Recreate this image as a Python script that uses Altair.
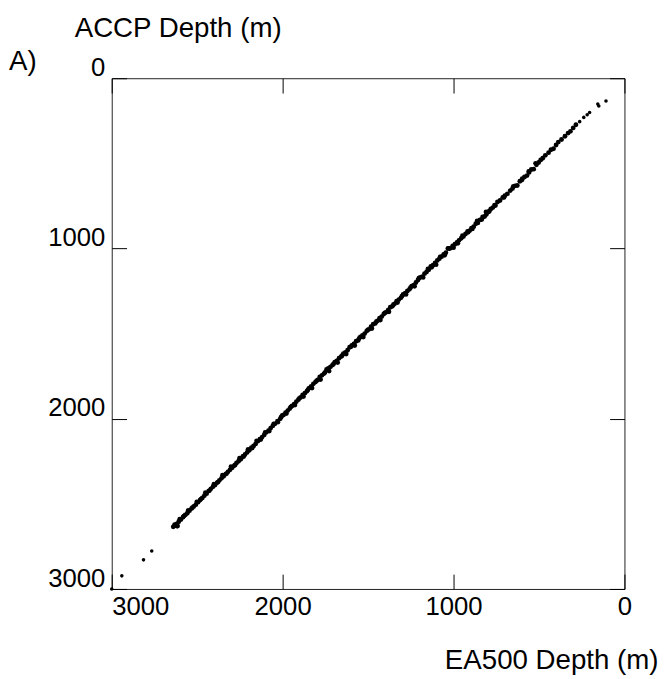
import altair as alt
import pandas as pd

# EA500 depth (x) and ACCP depth (y), metres
ea500 = [108, 150, 156, 204, 218, 238, 262, 284, 300, 316, 330, 348, 368, 387, 400, 415, 430, 444,
         463, 478, 490, 502, 515, 531, 545, 558, 570, 585, 598, 612, 627, 640, 655, 668, 685, 700,
         712, 728, 743, 755, 770, 782, 795, 808, 818, 830, 845, 858, 870, 882, 895, 905, 918, 930,
         942, 955, 968, 980, 992, 1005, 1018, 1033, 1045, 1058, 1070, 1083, 1095, 1108, 1120, 1133,
         1145, 1158, 1170, 1183, 1195, 1208, 1220, 1233, 1245, 1258, 1270, 1283, 1295, 1308, 1320,
         1333, 1345, 1358, 1370, 1383, 1395, 1408, 1420, 1433, 1445, 1458, 1470, 1483, 1495, 1508,
         1520, 1533, 1545, 1558, 1570, 1583, 1595, 1608, 1620, 1633, 1645, 1658, 1670, 1683, 1695,
         1708, 1720, 1733, 1743, 1758, 1770, 1783, 1795, 1808, 1820, 1833, 1845, 1858, 1870, 1883,
         1895, 1908, 1920, 1933, 1945, 1958, 1970, 1983, 1995, 2008, 2014, 2030, 2045, 2058, 2070,
         2083, 2095, 2108, 2120, 2133, 2145, 2158, 2170, 2183, 2195, 2208, 2220, 2233, 2245, 2258,
         2270, 2283, 2295, 2308, 2320, 2333, 2345, 2358, 2370, 2383, 2395, 2408, 2420, 2433, 2445,
         2458, 2470, 2483, 2495, 2508, 2520, 2533, 2545, 2558, 2570, 2583, 2595, 2608, 2620, 2627,
         2632, 2618, 2766, 2814, 2941, 3000,
         520, 560, 600, 650, 705, 760, 790,
         810, 835, 862, 890, 915, 948, 975, 1000, 1025, 1052, 1078, 1102, 1128, 1150, 1178, 1203,
         1228, 1252, 1278, 1302, 1328, 1352, 1378, 1402, 1428, 1452, 1478, 1502, 1528, 1552, 1578,
         1602, 1628, 1652, 1678, 1702, 1728, 1752, 1778, 1802, 1828, 1852, 1878, 1902, 1928, 1952,
         1978, 2002, 2028, 2052, 2078, 2102, 2128, 2152, 2178, 2202, 2228, 2252, 2278, 2302, 2328,
         2352, 2378, 2402, 2428, 2452, 2478, 2502, 2528, 2552, 2578, 2602, 2615, 2640]
accp = [134, 163, 152, 201, 215, 230, 255, 273, 292, 312, 322, 341, 360, 375, 392, 414, 420, 437,
        453, 470, 480, 495, 508, 534, 536, 553, 572, 580, 590, 605, 630, 632, 648, 660, 679, 690,
        700, 718, 727, 748, 760, 768, 785, 800, 812, 815, 832, 850, 855, 872, 880, 895, 900, 915,
        930, 940, 952, 965, 975, 985, 998, 1000, 1025, 1035, 1048, 1060, 1070, 1085, 1098, 1105,
        1125, 1138, 1148, 1165, 1170, 1185, 1200, 1215, 1222, 1240, 1250, 1262, 1270, 1290, 1300,
        1310, 1325, 1340, 1345, 1362, 1375, 1385, 1400, 1410, 1425, 1440, 1445, 1460, 1475, 1485,
        1500, 1510, 1520, 1540, 1545, 1560, 1570, 1580, 1598, 1610, 1618, 1635, 1645, 1660, 1668,
        1685, 1695, 1705, 1711, 1735, 1745, 1755, 1772, 1785, 1795, 1810, 1820, 1838, 1850, 1860,
        1875, 1888, 1900, 1915, 1925, 1940, 1952, 1965, 1978, 1990, 2000, 2015, 2030, 2042, 2055,
        2070, 2080, 2095, 2108, 2120, 2132, 2148, 2160, 2170, 2185, 2198, 2210, 2222, 2238, 2250,
        2260, 2275, 2288, 2300, 2312, 2325, 2338, 2350, 2362, 2375, 2390, 2400, 2412, 2425, 2440,
        2452, 2465, 2478, 2490, 2505, 2515, 2528, 2540, 2555, 2565, 2578, 2592, 2605, 2618, 2628,
        2622, 2630, 2777, 2829, 2923, 3000,
        500, 548, 598, 635, 700, 745, 780,
        785, 830, 838, 885, 905, 925, 970, 995, 1000, 1040, 1050, 1095, 1110, 1120, 1170, 1175,
        1222, 1230, 1270, 1280, 1318, 1330, 1372, 1378, 1420, 1430, 1470, 1478, 1520, 1528, 1570,
        1578, 1620, 1630, 1670, 1678, 1720, 1728, 1770, 1778, 1820, 1830, 1870, 1880, 1920, 1930,
        1970, 1980, 2020, 2030, 2072, 2080, 2122, 2130, 2172, 2180, 2222, 2232, 2272, 2282, 2322,
        2332, 2372, 2385, 2422, 2435, 2472, 2488, 2522, 2538, 2572, 2590, 2630, 2635]

tick_values = [0, 1000, 2000, 3000]
x_title = "EA500 Depth (m)"
y_title = "ACCP Depth (m)"
panel_label = "A)"

df = pd.DataFrame({"ea500": ea500, "accp": accp})

FONT = "Liberation Sans"
W, H = 519, 517

xscale = alt.Scale(domain=[3000, 0], nice=False, zero=False)
yscale = alt.Scale(domain=[3000, 0], nice=False, zero=False)

dash = [15, 3000]

x_bottom = alt.Axis(
    orient="bottom", values=tick_values, format="d", domain=False, ticks=False,
    grid=True, gridDash=dash, gridColor="#000", gridWidth=1, gridOpacity=1,
    labelFont=FONT, labelFontSize=26, labelColor="#000", labelPadding=5,
    labelFlush=False, labelOverlap=False,
    labelAlign={"condition": {"test": "datum.value == 3000", "value": "left"}, "value": "center"},
    title=x_title, titleFont=FONT, titleFontSize=28, titleFontWeight="normal", titleColor="#000",
    titleAnchor="end", titleAlign="right", titleBaseline="alphabetic",
    titleX=W + 34, titleY=80,
)
y_left = alt.Axis(
    orient="left", values=tick_values, format="d", domain=False, ticks=False,
    grid=True, gridDash=dash, gridColor="#000", gridWidth=1, gridOpacity=1,
    labelFont=FONT, labelFontSize=26, labelColor="#000", labelPadding=7,
    labelFlush=False, labelOverlap=False, labelBaseline="alphabetic", labelOffset=-3,
    title=y_title, titleFont=FONT, titleFontSize=28, titleFontWeight="normal", titleColor="#000",
    titleAngle=0, titleAlign="left", titleBaseline="alphabetic",
    titleX=-38, titleY=-42,
)
x_top = alt.Axis(
    orient="top", values=tick_values, domain=False, ticks=False, labels=False, title=None,
    grid=True, gridDash=dash, gridColor="#000", gridWidth=1, gridOpacity=1,
)
y_right = alt.Axis(
    orient="right", values=tick_values, domain=False, ticks=False, labels=False, title=None,
    grid=True, gridDash=dash, gridColor="#000", gridWidth=1, gridOpacity=1,
)

base = alt.Chart(df)
dense = base.transform_filter("datum.ea500 > 280 && datum.ea500 < 2700").mark_circle(
    size=24, color="#000", opacity=1
).encode(
    x=alt.X("ea500:Q", scale=xscale, axis=x_bottom),
    y=alt.Y("accp:Q", scale=yscale, axis=y_left),
)
sparse = base.transform_filter("datum.ea500 <= 280 || datum.ea500 >= 2700").mark_circle(
    size=13, color="#000", opacity=1
).encode(
    x=alt.X("ea500:Q", scale=xscale, axis=None),
    y=alt.Y("accp:Q", scale=yscale, axis=None),
)
mirror = base.mark_circle(size=15, color="#000", opacity=0).encode(
    x=alt.X("ea500:Q", scale=xscale, axis=x_top),
    y=alt.Y("accp:Q", scale=yscale, axis=y_right),
)
label = alt.Chart(pd.DataFrame({"t": [panel_label]})).mark_text(
    font=FONT, fontSize=28, color="#000", align="left", baseline="alphabetic"
).encode(text="t:N", x=alt.value(-104), y=alt.value(-8))

chart = (
    alt.layer(dense, sparse, mirror, label)
    .resolve_axis(x="independent", y="independent")
    .properties(
        width=W, height=H,
        autosize=alt.AutoSizeParams(type="none"),
        padding={"left": 105, "top": 67, "right": 37, "bottom": 84},
    )
    .configure_view(stroke="#222", strokeWidth=1)
)

chart.save("out.html", embed_options={"renderer": "svg", "actions": False})
